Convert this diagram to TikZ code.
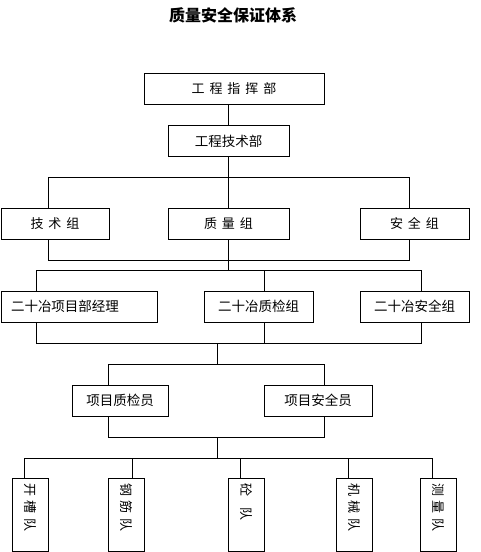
\documentclass[tikz,border=0pt]{standalone}
\usepackage{fontspec}
\newfontfamily\cjk{Noto Sans CJK SC}
\usetikzlibrary{calc}

\tikzset{
  box/.style={draw, line width=0.8pt, minimum height=31pt, inner sep=0pt,
    font=\cjk\fontsize{13.5}{15}\selectfont},
  spaced/.style={font=\cjk\fontsize{13}{15}\selectfont\addfontfeature{LetterSpace=38}},
  team/.style={box, spaced, rotate=-90, minimum width=73pt, minimum height=36pt,
    text width=63pt, inner xsep=5pt, align=left},
  link/.style={line width=0.8pt},
}

\begin{document}
\begin{tikzpicture}[x=1pt, y=-1pt]
    \useasboundingbox (0,0) rectangle (480,552);

    \node[font=\cjk\bfseries\fontsize{16}{18}\selectfont] (title) at (233,15) {质量安全保证体系};

    % boxes
    \node[box, spaced, minimum width=180pt] (zhb) at (234,88.5) {工程指挥部};
    \node[box, minimum width=121pt] (jsb) at (228.5,141) {工程技术部};

    \node[box, spaced, minimum width=108pt] (jsz) at (55,223.5) {技术组};
    \node[box, spaced, minimum width=121pt] (zlz) at (228.5,223.5) {质量组};
    \node[box, spaced, minimum width=109pt] (aqz) at (414.5,223.5) {安全组};

    \node[box, minimum width=156pt, text width=136pt, inner xsep=10pt, align=left] (xmjl) at (79,306.5) {二十冶项目部经理};
    \node[box, minimum width=109pt] (zjz) at (258.5,306.5) {二十冶质检组};
    \node[box, minimum width=109pt] (aqz2) at (414.5,306.5) {二十冶安全组};

    \node[box, minimum width=96pt] (zjy) at (120,400.5) {项目质检员};
    \node[box, minimum width=108pt] (aqy) at (318,400.5) {项目安全员};

    \foreach \n/\x/\t in {kc/30/开槽队, gj/126/钢筋队, td/246/{砼\hspace{11pt}队}, jx/354/机械队, cl/438/测量队}
        \node[team] (\n) at (\x,514.5) {\t};

    % bus coordinates
    \coordinate (t1l) at (48,177);
    \coordinate (t1r) at (409,177);
    \coordinate (b1l) at (48,260);
    \coordinate (b1r) at (409,260);
    \coordinate (t2l) at (36,270);
    \coordinate (t2m) at (264,270);
    \coordinate (t2r) at (421,270);
    \coordinate (b2l) at (36,343);
    \coordinate (b2m) at (264,343);
    \coordinate (b2r) at (421,343);
    \coordinate (m2) at (217,343);
    \coordinate (t3m) at (217,364);
    \coordinate (t3l) at (108,364);
    \coordinate (t3r) at (324,364);
    \coordinate (b3l) at (108,437);
    \coordinate (b3r) at (324,437);
    \coordinate (b3m) at (217,437);
    \coordinate (t4m) at (217,458);
    \coordinate (t4l) at (24,458);
    \coordinate (t4r) at (432,458);

    % connectors
    \draw[link] (zhb.south -| jsb.north) -- (jsb.north);
    \draw[link] (jsb.south) -- (zlz.north);
    \draw[link] (jsz.north -| t1l) -- (t1l) -- (t1r) -- (aqz.north -| t1r);
    \draw[link] (jsz.south -| b1l) -- (b1l) -- (b1r) -- (aqz.south -| b1r);
    \draw[link] (zlz.south) -- (zlz.south |- t2l);
    \draw[link] (xmjl.north -| t2l) -- (t2l) -- (t2r) -- (aqz2.north -| t2r);
    \draw[link] (t2m) -- (zjz.north -| t2m);
    \draw[link] (xmjl.south -| b2l) -- (b2l) -- (b2r) -- (aqz2.south -| b2r);
    \draw[link] (zjz.south -| b2m) -- (b2m);
    \draw[link] (m2) -- (t3m);
    \draw[link] (zjy.north -| t3l) -- (t3l) -- (t3r) -- (aqy.north -| t3r);
    \draw[link] (zjy.south -| b3l) -- (b3l) -- (b3r) -- (aqy.south -| b3r);
    \draw[link] (b3m) -- (t4m);
    \draw[link] (t4l) -- (t4r);

    \foreach \n/\x in {kc/24, gj/132, td/240, jx/348, cl/432}
        \draw[link] (\x,458) -- (\x,478);
\end{tikzpicture}
\end{document}
